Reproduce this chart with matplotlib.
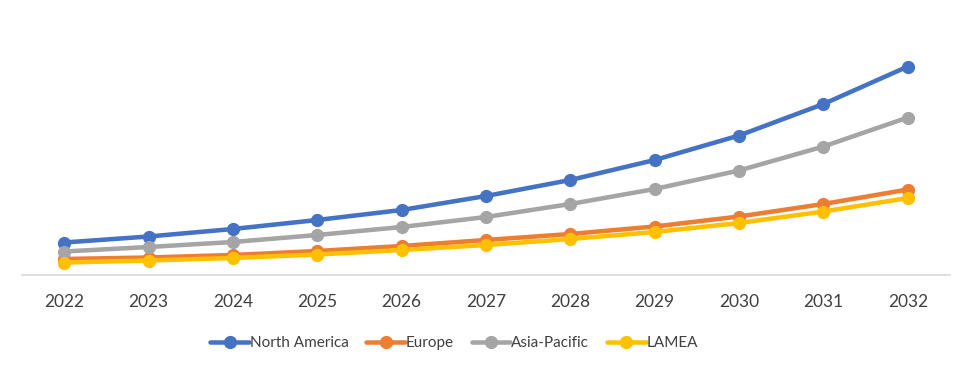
import matplotlib
matplotlib.use("Agg")
import matplotlib.pyplot as plt

years = ["2022", "2023", "2024", "2025", "2026", "2027", "2028", "2029", "2030", "2031", "2032"]
north_america = [32.5, 38.5, 46, 55, 65, 79, 95, 115, 139.5, 171, 208.5]
europe = [16, 17.5, 20, 24, 29, 35, 41, 48.5, 58.5, 71, 85.5]
asia_pacific = [23.5, 28, 33, 40, 48, 58, 71, 86, 104.5, 128.5, 157.5]
lamea = [12.5, 14.5, 17, 20.5, 25, 30, 36, 43, 52, 63.5, 77]

series = [
    ("North America", north_america, "#4472C4"),
    ("Europe", europe, "#ED7D31"),
    ("Asia-Pacific", asia_pacific, "#A5A5A5"),
    ("LAMEA", lamea, "#FFC000"),
]

plt.rcParams['font.family'] = ['Lato', 'DejaVu Sans']

fig = plt.figure(figsize=(9.75, 3.72), dpi=100)
ax = fig.add_axes([22/975, 1 - 275/372, (950-22)/975, (275-20)/372])

x = list(range(len(years)))
for name, vals, col in series:
    ax.plot(x, vals, color=col, lw=3.25, marker='o', ms=8.5, label=name,
            solid_capstyle='round')

ax.set_xlim(-0.5, len(years) - 0.5)
ax.set_ylim(0, 255)
ax.set_xticks(x)
ax.set_xticklabels(years, fontsize=12.5, color="#404040")
ax.tick_params(axis='x', length=0, pad=14)
ax.set_yticks([])
for s in ['top', 'right', 'left']:
    ax.spines[s].set_visible(False)
ax.spines['bottom'].set_color("#D9D9D9")
ax.spines['bottom'].set_linewidth(1.2)

leg = fig.legend(loc='center', bbox_to_anchor=(454/975, 1 - 343/372), ncol=4,
                 frameon=False, fontsize=11, handlelength=2.55, handletextpad=0.05,
                 columnspacing=1.15, labelcolor="#404040")

fig.savefig("out.png", dpi=100)
